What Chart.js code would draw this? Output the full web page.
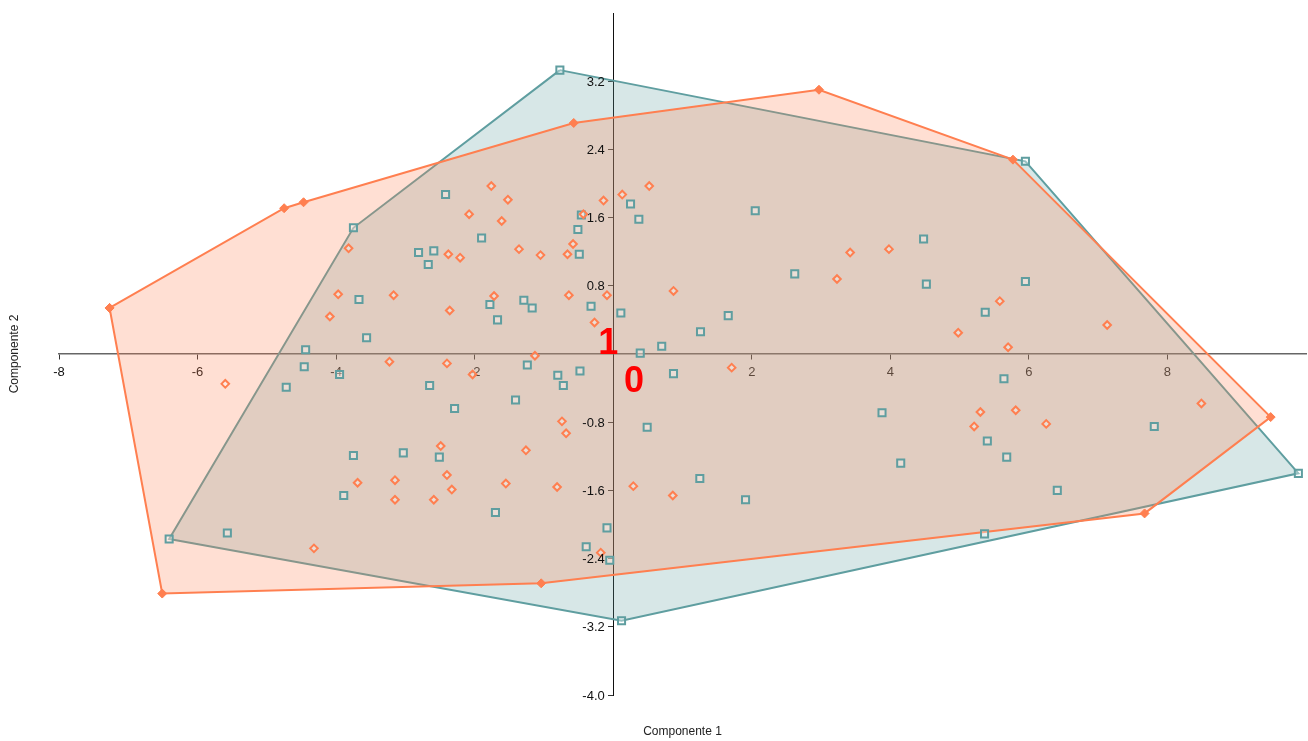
<!DOCTYPE html>
<html>
<head>
<meta charset="utf-8">
<title>Componentes principales</title>
<script src="https://cdn.jsdelivr.net/npm/chart.js@4.4.1/dist/chart.umd.min.js"></script>
<style>
  html, body { margin: 0; padding: 0; background: #ffffff; }
  canvas { display: block; }
</style>
</head>
<body>
<canvas id="grafico" width="1308" height="741"></canvas>
<script>
// Puntuaciones de las observaciones en las componentes 1 y 2, por grupo.

// Grupo de cuadrados (verde azulado)
const grupoCuadX = [-0.77, 5.95, 9.89, 0.12, -6.41, -3.75,
  -2.42, -1.90, 0.25, 0.37, -0.46, -0.51, 2.05, 4.48, -3.67, -3.56,
  -4.44, -4.46, -4.72, -3.95, -3.75, -2.81, -2.59, -2.67, -0.49, -1.78,
  -1.29, -1.17, -1.67, -0.32, 0.11, 0.70, 0.39, -1.24, -0.80, -0.72,
  -0.48, 0.87, -2.65, -1.41, -2.29, 0.49, -3.03, -2.51, 2.62, 4.52,
  1.66, 1.26, 5.37, 3.88, 5.40, 4.15, 5.95, 5.64, 7.81, 5.68,
  -3.89, -5.57, -1.70, -0.09, -0.39, -0.05, 1.25, 1.91, 5.36, 6.41];
const grupoCuadY = [3.33, 2.26, -1.40, -3.13, -2.17, 1.48,
  1.87, 1.36, 1.76, 1.58, 1.63, 1.46, 1.68, 1.35, 0.64, 0.19,
  0.05, -0.15, -0.39, -0.24, -1.19, 1.19, 1.21, 1.05, 1.17, 0.58,
  0.63, 0.54, 0.40, 0.56, 0.48, 0.09, 0.01, -0.13, -0.25, -0.37,
  -0.20, -0.23, -0.37, -0.54, -0.64, -0.86, -1.16, -1.21, 0.94, 0.82,
  0.45, 0.26, 0.49, -0.69, -1.02, -1.28, 0.85, -0.29, -0.85, -1.21,
  -1.66, -2.10, -1.86, -2.04, -2.26, -2.42, -1.46, -1.71, -2.11, -1.60];

// Grupo de rombos (coral)
const grupoRomboX = [-1.76, -1.52, -2.08, -1.61, -0.14, 0.13, 0.52, -0.43,
  -3.82, -3.97, -4.09, -5.60, -0.58, -2.38, -2.21, -1.36, -1.05, -0.66,
  -3.17, -1.72, -2.36, -0.64, -0.09, -0.27, 0.87, -3.23, -2.40, -2.03,
  -1.13, -0.74, -0.68, -2.49, -1.26, 3.42, 3.98, 3.23, 4.98, 1.71,
  5.30, 5.21, 5.58, 7.13, 5.70, 5.81, 6.25, 8.49, -3.69, -4.32,
  -3.15, -3.15, -2.40, -2.33, -2.59, -1.55, -0.81, 0.29, 0.86, -0.18];
const grupoRomboY = [1.97, 1.81, 1.64, 1.56, 1.80, 1.87, 1.97, 1.64,
  1.24, 0.70, 0.44, -0.35, 1.29, 1.17, 1.13, 1.23, 1.16, 1.17,
  0.69, 0.68, 0.51, 0.69, 0.69, 0.37, 0.74, -0.09, -0.11, -0.24,
  -0.02, -0.79, -0.93, -1.08, -1.13, 1.19, 1.23, 0.88, 0.25, -0.16,
  -0.68, -0.85, 0.62, 0.34, 0.08, -0.66, -0.82, -0.58, -1.51, -2.28,
  -1.48, -1.71, -1.42, -1.59, -1.71, -1.52, -1.56, -1.55, -1.66, -2.33];

// Vértices de la envolvente convexa de cada grupo, en orden
const envolventeCuadX = [-0.77, 5.95, 9.89, 0.12, -6.41, -3.75];
const envolventeCuadY = [3.33, 2.26, -1.40, -3.13, -2.17, 1.48];
const envolventeRomboX = [-7.27, -4.75, -4.47, -0.57, 2.97, 5.77, 9.49, 7.67, -1.04, -6.51];
const envolventeRomboY = [0.54, 1.71, 1.78, 2.71, 3.10, 2.28, -0.74, -1.87, -2.69, -2.81];

// Etiquetas de grupo junto al origen
const etiquetasGrupo = ['1', '0'];
const etiquetasX = [-0.07, 0.30];
const etiquetasY = [0.0, -0.45];

// Marcas de los ejes
const marcasX = [-8, -6, -4, -2, 2, 4, 6, 8];
const marcasY = [-4.0, -3.2, -2.4, -1.6, -0.8, 0.8, 1.6, 2.4, 3.2];

const tituloX = 'Componente 1';
const tituloY = 'Componente 2';

const COLOR_CUAD = 'rgb(95,158,160)';
const COLOR_ROMBO = 'rgb(255,127,80)';
const FUENTE = "'Liberation Sans', Arial, sans-serif";

function puntos(xs, ys) {
  return xs.map((x, i) => ({ x: x, y: ys[i] }));
}
function poligono(xs, ys) {
  const p = puntos(xs, ys);
  p.push({ x: xs[0], y: ys[0] });
  return p;
}

const textosExtra = {
  id: 'textosExtra',
  afterDraw(chart) {
    const ctx = chart.ctx;
    const area = chart.chartArea;
    const sx = chart.scales.x, sy = chart.scales.y;
    ctx.save();
    // rótulos del eje vertical, a la izquierda del eje
    const ejeX = sx.getPixelForValue(0);
    ctx.font = '13px ' + FUENTE;
    ctx.fillStyle = '#111111';
    ctx.textAlign = 'right';
    ctx.textBaseline = 'middle';
    sy.ticks.forEach((t) => {
      ctx.fillText(Number(t.value).toFixed(1), ejeX - 8.5, sy.getPixelForValue(t.value) + 1);
    });
    // etiquetas de grupo
    ctx.font = 'bold 36px ' + FUENTE;
    ctx.fillStyle = '#ff0000';
    ctx.textAlign = 'center';
    ctx.textBaseline = 'alphabetic';
    etiquetasGrupo.forEach((t, i) => {
      ctx.fillText(t, sx.getPixelForValue(etiquetasX[i]), sy.getPixelForValue(etiquetasY[i]));
    });
    // títulos de los ejes
    ctx.font = '12px ' + FUENTE;
    ctx.fillStyle = '#222222';
    ctx.textBaseline = 'middle';
    ctx.fillText(tituloX, (area.left + area.right) / 2, 732);
    ctx.translate(15, (area.top + area.bottom) / 2);
    ctx.rotate(-Math.PI / 2);
    ctx.fillText(tituloY, 0, 0);
    ctx.restore();
  }
};

new Chart(document.getElementById('grafico'), {
  type: 'scatter',
  data: {
    datasets: [
      {
        label: 'Envolvente cuadrados',
        data: poligono(envolventeCuadX, envolventeCuadY),
        showLine: true,
        fill: 'shape',
        tension: 0,
        borderColor: COLOR_CUAD,
        borderWidth: 2,
        backgroundColor: 'rgba(95,158,160,0.25)',
        pointRadius: 0,
        order: 4
      },
      {
        label: 'Envolvente rombos',
        data: poligono(envolventeRomboX, envolventeRomboY),
        showLine: true,
        fill: 'shape',
        tension: 0,
        borderColor: COLOR_ROMBO,
        borderWidth: 2,
        backgroundColor: 'rgba(255,127,80,0.25)',
        pointStyle: 'rectRot',
        pointRadius: 4.5,
        pointBackgroundColor: COLOR_ROMBO,
        pointBorderColor: COLOR_ROMBO,
        pointBorderWidth: 1,
        order: 3
      },
      {
        label: 'Cuadrados',
        data: puntos(grupoCuadX, grupoCuadY),
        pointStyle: 'rect',
        pointRadius: 5,
        pointBorderWidth: 2,
        pointBorderColor: COLOR_CUAD,
        pointBackgroundColor: 'rgba(255,255,255,0.35)',
        order: 2
      },
      {
        label: 'Rombos',
        data: puntos(grupoRomboX, grupoRomboY),
        pointStyle: 'rectRot',
        pointRadius: 3.8,
        pointBorderWidth: 2,
        pointBorderColor: COLOR_ROMBO,
        pointBackgroundColor: 'rgba(255,255,255,0.35)',
        order: 1
      }
    ]
  },
  options: {
    responsive: false,
    animation: false,
    devicePixelRatio: 1,
    events: [],
    layout: {
      autoPadding: false,
      padding: { left: 59, right: 2, top: 13, bottom: 46 }
    },
    plugins: {
      legend: { display: false },
      tooltip: { enabled: false }
    },
    scales: {
      x: {
        type: 'linear',
        min: -8,
        max: 10,
        position: { y: 0 },
        afterBuildTicks: (s) => { s.ticks = marcasX.map(v => ({ value: v })); },
        ticks: {
          callback: (v) => String(v),
          font: { family: FUENTE, size: 13 },
          color: '#111111',
          padding: 6,
          maxRotation: 0,
          autoSkip: false
        },
        grid: {
          drawOnChartArea: false,
          drawTicks: true,
          tickLength: 5,
          tickColor: '#333333',
          tickWidth: 1
        },
        border: { display: true, color: '#666666', width: 1.5 }
      },
      y: {
        type: 'linear',
        min: -4,
        max: 4,
        position: { x: 0 },
        afterBuildTicks: (s) => { s.ticks = marcasY.map(v => ({ value: v })); },
        ticks: { display: false },
        grid: {
          drawOnChartArea: false,
          drawTicks: true,
          tickLength: 5,
          tickColor: '#333333',
          tickWidth: 1
        },
        border: { display: true, color: '#111111', width: 1 }
      }
    }
  },
  plugins: [textosExtra]
});
</script>
</body>
</html>
